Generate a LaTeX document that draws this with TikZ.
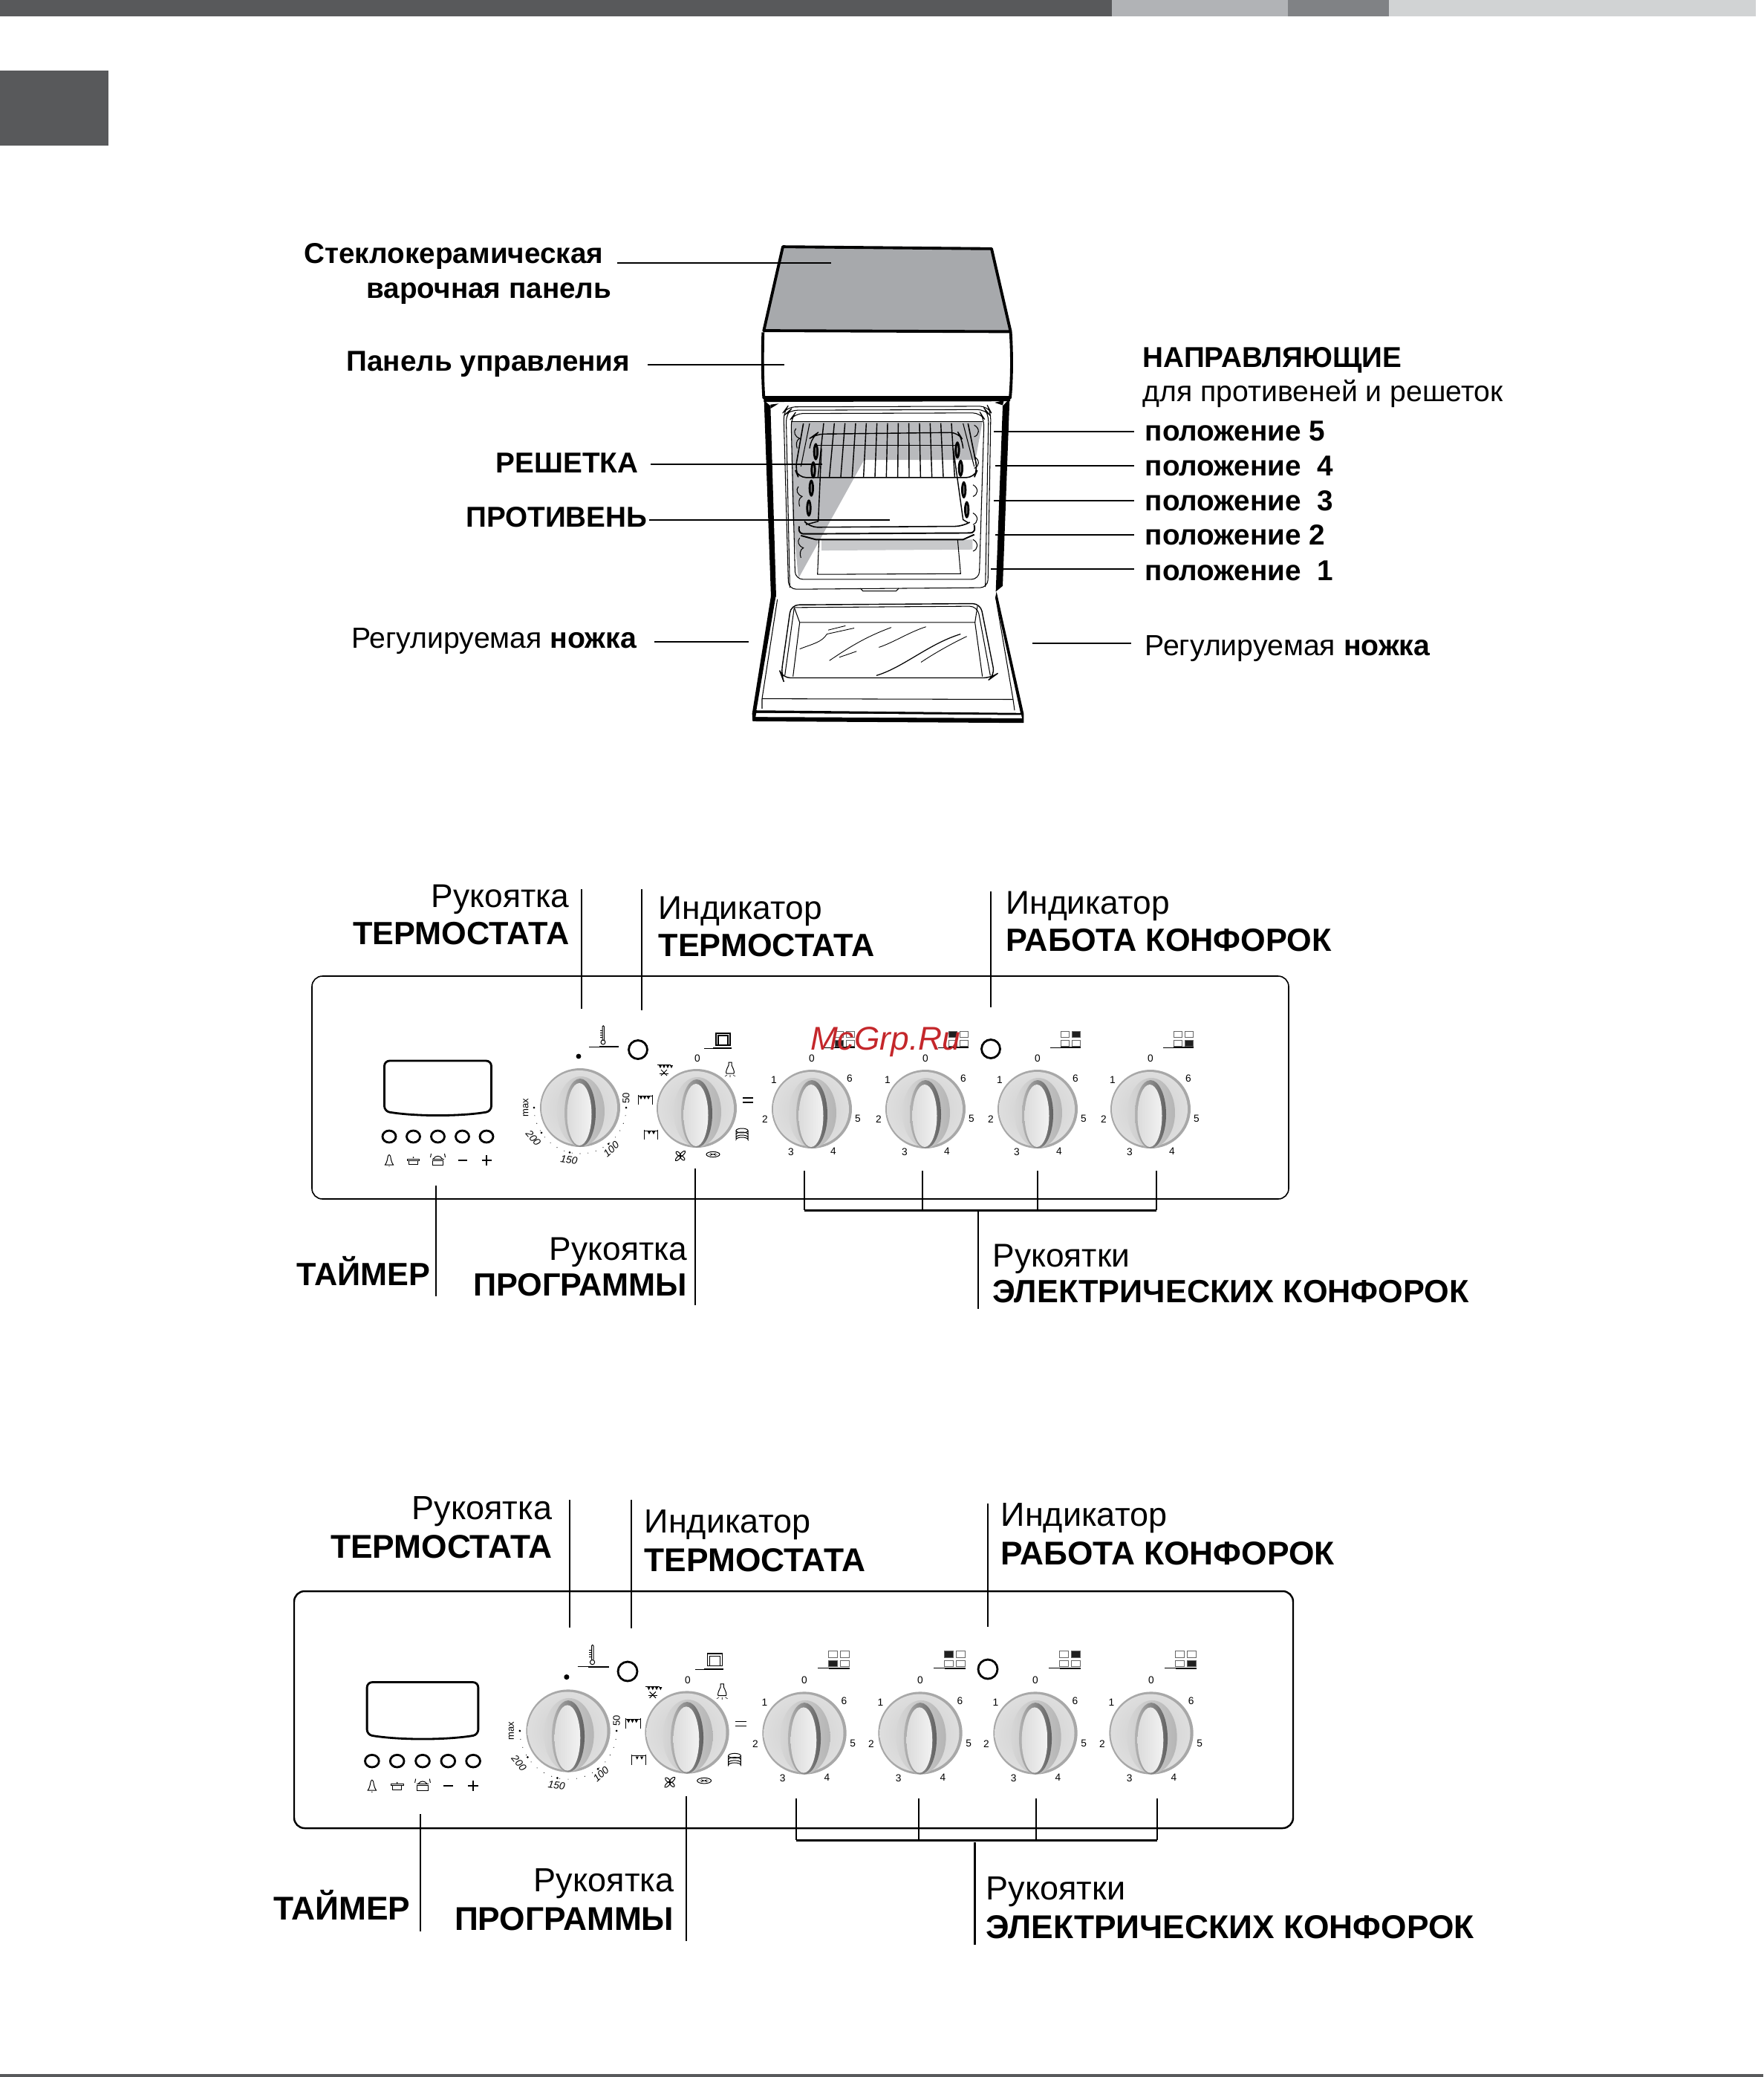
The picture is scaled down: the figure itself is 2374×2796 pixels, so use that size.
\documentclass[tikz,border=0pt]{standalone}
\usepackage{fontspec}
\setmainfont{Liberation Sans}
\usepackage{xcolor}
\usepackage{tikz}
\definecolor{barDark}{HTML}{58595B}
\definecolor{barLight}{HTML}{B1B3B6}
\definecolor{barMid}{HTML}{808285}
\definecolor{barPale}{HTML}{D1D3D4}
\definecolor{glassGrey}{HTML}{A7A9AC}
\definecolor{wallGrey}{HTML}{C8C9CB}
\definecolor{stamp}{HTML}{C4272B}
\tikzset{
  lblL/.style={anchor=mid east,inner sep=0pt,yshift=-.9pt},
  lblR/.style={anchor=mid west,inner sep=0pt,yshift=-.9pt},
  ovenbf/.style={font=\fontsize{11}{13}\selectfont\bfseries},
  ovenrg/.style={font=\fontsize{11.15}{13}\selectfont},
  bigbfA/.style={font=\fontsize{12.3}{14}\selectfont\bfseries},
  bigrgA/.style={font=\fontsize{12.6}{14}\selectfont},
  bigbfB/.style={font=\fontsize{12.6}{14}\selectfont\bfseries},
  bigrgB/.style={font=\fontsize{12.8}{14}\selectfont},
  leader/.style={line width=.6pt},
  leaderthin/.style={line width=.35pt},
  dialnum/.style={inner sep=0pt,font=\fontsize{3.9}{4}\selectfont},
  scalenum/.style={inner sep=0pt,font=\fontsize{3.7}{4}\selectfont},
  scaleital/.style={inner sep=0pt,font=\fontsize{3.9}{4}\selectfont\itshape},
  icon/.style={line width=.28pt},
  indlamp/.style={line width=.8pt},
  ovenline/.style={line width=.3pt},
  ovenheavy/.style={line width=1.1pt,line join=round},
}
\newcommand{\leadline}[6][leader]{%
  \coordinate (#2a) at (#3,#4);
  \coordinate (#2b) at (#5,#6);
  \draw[#1] (#2a) -- (#2b);
}
\newcommand{\knobbody}{%
  \fill[gray!68] (0,0) ellipse (54 and 53);
  \shade[inner color=gray!38,outer color=gray!26] (-1,0) ellipse (51 and 50);
  \shade[left color=gray!32,right color=gray!58] (1,5) ellipse (32 and 47);
  \shade[left color=gray!60,right color=black!62] (0,7) ellipse (21 and 46);
  \shade[left color=gray!28,right color=gray!10] (-1,9) ellipse (16.5 and 42);
}
\newcommand{\hobknob}[5]{%
  \begin{scope}[shift={(#2,#3)},scale=#4]
  \knobbody
  \foreach \n/\ax/\ay in {0/0/-68,1/-51/-39,2/-63/14,3/-28/58,4/29/57,5/62/13,6/51/-41}
    \node[dialnum] (#1n\n) at (\ax,\ay) {\n};
  \foreach \q/\qx/\qy in {1/31/-105,2/46/-105,3/31/-93,4/46/-93}{
    \ifnum\q=#5\def\qfill{black!88}\else\def\qfill{white}\fi
    \filldraw[draw=gray!80!black,line width=.2pt,fill=\qfill] (\qx,\qy) rectangle ++(11,8);
  }
  \draw[line width=.25pt] (17,-83) -- (31,-83);
  \draw[line width=.7pt] (31,-83) -- (58,-83);
  \end{scope}
}
\newcommand{\thermodial}[4]{%
  \begin{scope}[shift={(#2,#3)},scale=#4]
  \knobbody
  \fill (-2,-69) circle (3.4);
  \foreach \a in {10,20,...,170} \fill (\a:62) circle (.55);
  \foreach \a in {0,52,103,147,180} \fill (\a:62) circle (1.5);
  \node[scalenum,rotate=90] (#1c) at (62,-13) {50};
  \node[scalenum,rotate=90] (#1d) at (-73,0) {max};
  \node[scaleital,rotate=-50] (#1e) at (-63,41) {200};
  \node[scaleital,rotate=-8] (#1f) at (-15,70) {150};
  \node[scaleital,rotate=42] (#1g) at (42,56) {100};
  \draw[icon] (31,-88) circle (3);
  \draw[icon] (30,-91) -- (30,-109) arc (180:360:1.2) -- (32.4,-91);
  \foreach \t in {-104,-101,-98,-95} \draw[line width=.15pt] (27,\t) -- (30,\t);
  \draw[line width=.25pt] (12,-82) -- (26,-82);
  \draw[line width=.7pt] (26,-82) -- (52,-82);
  \end{scope}
}
\newcommand{\progdial}[4]{%
  \begin{scope}[shift={(#2,#3)},scale=#4]
  \knobbody
  \node[dialnum] (#1z) at (1,-67) {0};
  \draw[line width=.35pt] (26,-101) rectangle (45,-85);
  \draw[line width=.3pt] (29,-98) rectangle (42,-85);
  \draw[line width=.25pt] (10,-81) -- (22,-81);
  \draw[line width=.7pt] (22,-81) -- (47,-81);
  \draw[icon] (-53,-59) -- (-35,-59);
  \foreach \t in {-51,-46,-41,-36} \fill (\t,-58) -- ++(4,0) -- ++(-2,4) -- cycle;
  \draw[icon] (-48,-52) -- (-40,-44) (-40,-52) -- (-48,-44);
  \draw[icon] (-50,-47) -- (-38,-47);
  \draw[icon] (43,-62) -- (47,-62) -- (47,-58) .. controls (50,-52) and (51,-49) .. (50,-47) -- (40,-47) .. controls (39,-49) and (40,-52) .. (43,-58) -- cycle;
  \draw[line width=.15pt] (38,-43) -- (41,-45) (45,-42) -- (45,-45) (52,-43) -- (49,-45);
  \draw[icon] (-79,-18) -- (-79,-5) (-60,-18) -- (-60,-5) (-79,-17) -- (-60,-17);
  \foreach \t in {-77,-72,-67} \fill (\t,-16) -- ++(4,0) -- ++(-2,4) -- cycle;
  \draw[icon] (-71,29) -- (-71,42) (-53,29) -- (-53,42) (-71,30) -- (-53,30);
  \foreach \t in {-66,-60} \fill (\t,31) -- ++(4,0) -- ++(-2,4) -- cycle;
  \draw[line width=.35pt] (62,-14) -- (76,-14) (62,-8) -- (76,-8);
  \draw[icon] (53,30) -- (53,42) arc (180:360:8 and 3) -- (69,30);
  \draw[icon,fill=white] (61,30) ellipse (8 and 3);
  \draw[icon] (53,35) arc (180:360:8 and 3) (53,39) arc (180:360:8 and 3);
  \draw[icon,rotate around={-45:(-22,64)}] (-22,60) ellipse (2 and 5) (-22,68) ellipse (2 and 5);
  \draw[icon,rotate around={45:(-22,64)}] (-22,60) ellipse (2 and 4) (-22,68) ellipse (2 and 4);
  \draw[icon] (22,62) ellipse (9 and 3.6);
  \draw[line width=.15pt] (16,62) -- (28,62) (18,60.5) -- (26,63.5) (18,63.5) -- (26,60.5);
  \end{scope}
}
\newcommand{\timerstrip}[4]{%
  \begin{scope}[shift={(#2,#3)},scale=#4]
  \draw[line width=.8pt,rounded corners=2pt] (-72,-36) -- (72,-36) -- (72,32) .. controls (30,39) and (-30,39) .. (-72,32) -- cycle;
  \foreach \q in {-65.5,-33,0,33,65.5} \draw[indlamp] (\q,66) ellipse (9 and 8);
  \draw[icon] (-71,104) .. controls (-68,100) and (-68,96) .. (-67,92) arc (180:360:1.5) .. controls (-63,96) and (-63,100) .. (-60,104) -- cycle;
  \fill (-65.5,106) circle (.7);
  \draw[icon] (-41,96) rectangle (-25,98);
  \draw[icon] (-39,98) -- (-39,103) -- (-27,103) -- (-27,98);
  \fill (-33,94) circle (1);
  \draw[icon] (-8,96) -- (8,96) (-7,98) -- (-7,104) -- (7,104) -- (7,98) -- cycle;
  \draw[icon] (-6,96) .. controls (-3,91) and (3,91) .. (6,96);
  \draw[icon] (-9,89) -- (-10,94) (9,89) -- (10,94);
  \draw[line width=.5pt] (27,98) -- (39,98);
  \draw[line width=.4pt] (59,98) -- (72,98) (65.5,91) -- (65.5,105);
  \end{scope}
}
\begin{document}
\begin{tikzpicture}[x=0.01cm,y=-0.01cm]
\useasboundingbox (0,0) rectangle (2374,2796);
\fill[barDark] (0,0) rectangle (1497,22);
\fill[barLight] (1497,0) rectangle (1734,22);
\fill[barMid] (1734,0) rectangle (1870,22);
\fill[barPale] (1870,0) rectangle (2364,22);
\fill[barDark] (0,95) rectangle (146,196);
\fill[barDark] (0,2792) rectangle (2374,2796);
\begin{scope}[shift={(950,300)},xscale=1/3,yscale=1/2.24]
  \filldraw[fill=glassGrey,ovenheavy] (312,72) -- (1155,78) -- (1232,328) -- (235,325) -- cycle;
  \draw[ovenheavy] (232,330) .. controls (229,400) and (230,470) .. (235,528) -- (1230,528) .. controls (1237,470) and (1238,400) .. (1232,330);
  \fill (235,522) -- (1230,522) -- (1230,538) -- (235,540) -- cycle;
  \fill (236,535) -- (262,552) -- (285,1128) -- (264,1128) -- cycle;
  \fill (1228,530) -- (1200,552) -- (1172,1112) -- (1200,1095) -- cycle;
  \fill (262,548) -- (295,545) -- (262,560) -- cycle;
  \fill (1200,550) -- (1168,542) -- (1205,535) -- cycle;
  \fill[glassGrey!80!white] (345,600) -- (1118,600) -- (1090,715) -- (640,715) -- (375,1072) -- (350,880) -- cycle;
  \fill[wallGrey] (468,955) -- (1078,955) -- (1078,985) -- (468,988) -- cycle;
  \draw[ovenline,rounded corners=3pt] (335,1105) -- (315,570) -- (330,555) -- (1140,553) -- (1152,570) -- (1140,1100) -- cycle;
  \draw[ovenline,rounded corners=3pt] (340,1100) -- (325,575) -- (340,565) -- (1130,563) -- (1143,575) -- (1130,1098);
  \draw[ovenline,rounded corners=3pt] (362,1075) -- (345,590) -- (360,575) -- (1110,573) -- (1125,590) -- (1105,1075) -- cycle;
  \draw[ovenline] (625,1102) -- (635,1110) -- (770,1110) -- (780,1102);
  \draw[ovenline] (458,955) -- (452,1060) -- (1030,1058) -- (1018,955);
  \draw[ovenline] (345,600) -- (1118,600);
  \foreach \i in {-6,...,6}
    \draw[line width=.4pt] ({735+\i*43},604) -- ({730+\i*46},766);
  \draw[line width=.45pt,rounded corners=3pt] (395,605) -- (362,745) -- (375,768) -- (1085,768) -- (1098,745) -- (1060,605);
  \draw[ovenline] (420,605) -- (385,735);
  \draw[ovenline] (1040,605) -- (1085,735);
  \draw[line width=.4pt,rounded corners=3pt] (420,680) -- (430,645) -- (445,637) -- (1020,632) -- (1035,650) -- (1040,680);
  \draw[ovenline] (445,670) -- (1015,670);
  \draw[line width=.4pt] (468,680) -- (455,900) -- (405,910);
  \draw[line width=.4pt] (1000,680) -- (1040,895) -- (1062,905);
  \foreach \hx/\hy in {445/690,435/745,427/800,417/860,1017/685,1030/740,1043/805,1055/865}{
    \fill (\hx,\hy) ellipse (11 and 26);
    \fill[gray] (\hx,\hy) ellipse (2.5 and 14);
  }
  \draw[line width=.45pt,rounded corners=3pt] (405,905) -- (420,918) -- (1040,915) -- (1062,905);
  \draw[line width=.55pt,rounded corners=2pt] (378,915) -- (375,938) -- (1090,935) -- (1085,912);
  \draw[line width=.55pt] (385,943) -- (445,955) -- (1040,955) -- (1085,940);
  \foreach \wy/\wx in {640/365,815/375,970/380}
    \draw[ovenline] (\wx,\wy-20) .. controls (\wx-12,\wy-10) and (\wx-5,\wy+5) .. (\wx+15,\wy+10) .. controls (\wx,\wy+15) and (\wx,\wy+30) .. (\wx+5,\wy+40);
  \foreach \wy/\wx in {630/1095,725/1095,810/1090,895/1090,975/1090}
    \draw[ovenline] (\wx-10,\wy-20) .. controls (\wx+15,\wy-10) and (\wx+10,\wy+10) .. (\wx-10,\wy+15);
  \fill (283,1128) -- (264,1125) -- (188,1480) -- (190,1503) -- (1285,1508) -- (1285,1480) -- (1175,1112) -- (1170,1130) -- (1272,1478) -- (205,1470) -- cycle;
  \fill[white] (205,1478) -- (1275,1484) -- (1278,1494) -- (202,1490) -- cycle;
  \draw[ovenline] (290,1135) -- (228,1435) -- (228,1465);
  \draw[ovenline] (1172,1130) -- (1242,1437) -- (1248,1470);
  \draw[ovenline] (228,1435) -- (1242,1437);
  \draw[line width=.4pt,rounded corners=3pt] (345,1152) -- (1110,1148) -- (1168,1365) -- (1155,1372) -- (310,1372) -- (305,1362) -- cycle;
  \draw[ovenline,rounded corners=3pt] (358,1160) -- (1098,1156) -- (1150,1365);
  \draw[ovenline] (358,1160) -- (320,1365);
  \draw[ovenline] (358,1160) -- (380,1205) -- (1088,1205) -- (1118,1368);
  \draw[ovenline] (380,1205) -- (353,1368);
  \draw[ovenline] (1098,1156) -- (1088,1205);
  \draw[line width=.25pt] (380,1285) .. controls (430,1270) and (470,1265) .. (490,1240) -- (600,1222);
  \draw[line width=.25pt] (495,1228) -- (565,1215);
  \draw[line width=.25pt] (500,1320) .. controls (570,1285) and (640,1250) .. (750,1220);
  \draw[line width=.25pt] (540,1310) -- (610,1292);
  \draw[line width=.25pt] (700,1280) .. controls (760,1265) and (820,1235) .. (890,1218);
  \draw[line width=.35pt] (690,1365) .. controls (800,1340) and (900,1270) .. (1030,1240);
  \draw[line width=.25pt] (870,1325) .. controls (920,1300) and (990,1270) .. (1055,1247);
\end{scope}
\leadline{glass}{831}{354}{1119}{354}
\leadline{ctrl}{872}{491}{1056}{491}
\leadline{rack}{876}{625}{1107}{625}
\leadline[leaderthin]{tray}{874}{700}{1198}{700}
\leadline{footL}{881}{864}{1008}{864}
\leadline{footR}{1390}{866}{1523}{866}
\leadline{posE}{1338}{581}{1527}{581}
\leadline{posD}{1340}{627}{1527}{627}
\leadline{posC}{1338}{674}{1527}{674}
\leadline{posB}{1340}{720}{1527}{720}
\leadline[leaderthin]{posA}{1334}{766}{1527}{766}
\node[lblL,ovenbf] (lblHobA) at (813,342) {Стеклокерамическая};
\node[lblL,ovenbf] (lblHobB) at (824,389) {варочная панель};
\node[lblL,ovenbf] (lblCtrl) at (849,487) {Панель управления};
\node[lblL,ovenbf] (lblRack) at (860,624) {РЕШЕТКА};
\node[lblL,ovenbf] (lblTray) at (872,697) {ПРОТИВЕНЬ};
\node[lblL,ovenrg] (lblFootL) at (858,860) {Регулируемая \textbf{ножка}};
\node[lblR,ovenbf] (lblGuide) at (1538,482) {НАПРАВЛЯЮЩИЕ};
\node[lblR,ovenrg] (lblGuideB) at (1538,528) {для противеней и решеток};
\node[lblR,ovenbf] (lblPosE) at (1541,581) {положение 5};
\node[lblR,ovenbf] (lblPosD) at (1541,628) {положение~~4};
\node[lblR,ovenbf] (lblPosC) at (1541,675) {положение~~3};
\node[lblR,ovenbf] (lblPosB) at (1541,721) {положение 2};
\node[lblR,ovenbf] (lblPosA) at (1541,769) {положение~~1};
\node[lblR,ovenrg] (lblFootR) at (1541,870) {Регулируемая \textbf{ножка}};
\draw[line width=.45pt,rounded corners=4pt] (420,1314) rectangle (1735,1614);
\timerstrip{tA}{589.5}{1464}{1}
\thermodial{thA}{781}{1491}{1}
\draw[indlamp] (859,1413) circle (12.5);
\progdial{prA}{938}{1492}{1}
\hobknob{hA}{1093}{1493}{1}{3}
\hobknob{hB}{1246}{1493}{1}{1}
\hobknob{hC}{1397}{1493}{1}{2}
\hobknob{hD}{1549}{1493}{1}{4}
\draw[indlamp] (1334,1412) circle (12.5);
\leadline{thmA}{783}{1197}{783}{1358}
\leadline[leaderthin]{indA}{864}{1197}{864}{1360}
\leadline[leaderthin]{hobA}{1334}{1200}{1334}{1356}
\leadline[leaderthin]{timA}{587}{1596}{587}{1745}
\leadline{prgA}{936}{1573}{936}{1757}
\leadline{brA}{1083}{1576}{1083}{1629}
\leadline[leaderthin]{brB}{1242}{1576}{1242}{1629}
\leadline{brC}{1397}{1576}{1397}{1629}
\leadline[leaderthin]{brD}{1557}{1576}{1557}{1629}
\leadline[line width=.85pt]{brH}{1083}{1629}{1557}{1629}
\leadline[leaderthin]{brV}{1317}{1629}{1317}{1762}
\node[lblL,bigrgA] (grA) at (767,1209) {Рукоятка};
\node[lblL,bigbfA] (gbA) at (767,1259) {ТЕРМОСТАТА};
\node[lblR,bigrgA] (irA) at (886,1225) {Индикатор};
\node[lblR,bigbfA] (ibA) at (886,1275) {ТЕРМОСТАТА};
\node[lblR,bigrgA] (wrA) at (1354,1218) {Индикатор};
\node[lblR,bigbfA] (wbA) at (1354,1268) {РАБОТА КОНФОРОК};
\node[lblL,bigbfA] (tmA) at (580,1718) {ТАЙМЕР};
\node[lblL,bigrgA] (prrA) at (926,1684) {Рукоятка};
\node[lblL,bigbfA] (prbA) at (926,1732) {ПРОГРАММЫ};
\node[lblR,bigrgA] (errA) at (1336,1693) {Рукоятки};
\node[lblR,bigbfA] (erbA) at (1336,1741) {ЭЛЕКТРИЧЕСКИХ КОНФОРОК};
\node[inner sep=0pt,text=stamp,font=\fontsize{12.6}{14}\selectfont\itshape] (stampmark) at (1192,1403) {McGrp.Ru};
\draw[line width=.7pt,rounded corners=4pt] (396,2142) rectangle (1741,2461);
\timerstrip{tB}{569}{2302}{1.04}
\thermodial{thB}{765}{2330}{1.05}
\draw[indlamp] (845,2250) circle (13);
\progdial{prB}{925}{2332}{1.05}
\hobknob{hE}{1083}{2333}{1.05}{3}
\hobknob{hF}{1239}{2333}{1.05}{1}
\hobknob{hG}{1394}{2333}{1.05}{2}
\hobknob{hH}{1550}{2333}{1.05}{4}
\draw[indlamp] (1330,2247) circle (13);
\leadline{thmB}{767}{2019}{767}{2191}
\leadline[leaderthin]{indB}{850}{2019}{850}{2192}
\leadline[leaderthin]{hobB}{1330}{2024}{1330}{2190}
\leadline[leaderthin]{timB}{566}{2442}{566}{2600}
\leadline[leaderthin]{prgB}{924}{2418}{924}{2613}
\leadline{brE}{1072}{2421}{1072}{2477}
\leadline[leaderthin]{brF}{1237}{2421}{1237}{2477}
\leadline{brG}{1395}{2421}{1395}{2477}
\leadline[leaderthin]{brJ}{1558}{2421}{1558}{2477}
\leadline[line width=.85pt]{brK}{1072}{2477}{1558}{2477}
\leadline{brL}{1312.5}{2480}{1312.5}{2618}
\node[lblL,bigrgB] (grB) at (744,2033) {Рукоятка};
\node[lblL,bigbfB] (gbB) at (744,2085) {ТЕРМОСТАТА};
\node[lblR,bigrgB] (irB) at (867,2051) {Индикатор};
\node[lblR,bigbfB] (ibB) at (867,2103) {ТЕРМОСТАТА};
\node[lblR,bigrgB] (wrB) at (1347,2042) {Индикатор};
\node[lblR,bigbfB] (wbB) at (1347,2094) {РАБОТА КОНФОРОК};
\node[lblL,bigbfB] (tmB) at (553,2572) {ТАЙМЕР};
\node[lblL,bigrgB] (prrB) at (908,2534) {Рукоятка};
\node[lblL,bigbfB] (prbB) at (908,2586) {ПРОГРАММЫ};
\node[lblR,bigrgB] (errB) at (1327,2545) {Рукоятки};
\node[lblR,bigbfB] (erbB) at (1327,2597) {ЭЛЕКТРИЧЕСКИХ КОНФОРОК};
\end{tikzpicture}
\end{document}
